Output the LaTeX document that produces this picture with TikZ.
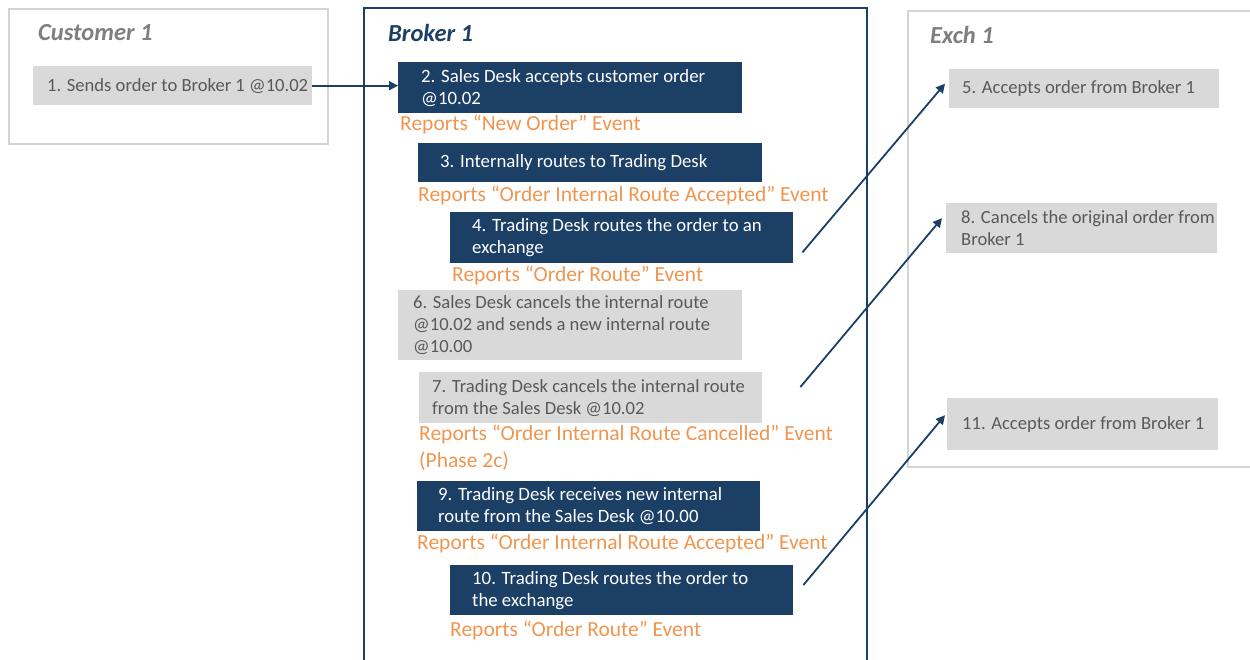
\documentclass[tikz,border=0pt]{standalone}
\usepackage{fontspec}
\setmainfont{Carlito}
\usetikzlibrary{arrows.meta,calc}
\definecolor{navy}{HTML}{1C3F66}
\definecolor{boxgray}{HTML}{D9D9D9}
\definecolor{txtgray}{HTML}{595959}
\definecolor{ttlgray}{HTML}{7F7F7F}
\definecolor{framegray}{HTML}{D4D4D4}
\definecolor{rep}{HTML}{F0954F}
\begin{document}
\begin{tikzpicture}[x=1pt,y=-1pt,
  bluebox/.style={draw=none,fill=navy,anchor=north west,inner sep=0pt},
  graybox/.style={draw=none,fill=boxgray,anchor=north west,inner sep=0pt},
  bluetxt/.style={anchor=west,inner sep=0pt,align=left,text=white,font=\fontsize{18.8}{22}\selectfont},
  graytxt/.style={anchor=west,inner sep=0pt,align=left,text=txtgray,font=\fontsize{18.6}{22}\selectfont},
  report/.style={anchor=west,inner sep=0pt,align=left,text=rep,font=\fontsize{21.5}{27}\selectfont},
  title/.style={anchor=west,inner sep=0pt,font=\fontsize{24.5}{26}\selectfont\bfseries\itshape},
  arr/.style={draw=navy,line width=1.8pt,-{Triangle[length=9pt,width=9pt]}}
]
\useasboundingbox (0,0) rectangle (1250,659);
% frames
\draw[framegray,line width=2pt] (9,9) rectangle (328,144);
\draw[navy,line width=2pt] (364,8) rectangle (867,680);
\draw[framegray,line width=2pt] (908,11) rectangle (1270,467);
% titles
\node[title,text=ttlgray] (tc) at (38,33) {Customer 1};
\node[title,text=navy] (tb) at (388,33) {Broker 1};
\node[title,text=ttlgray] (te) at (930,35) {Exch 1};
% customer
\node[graybox,minimum width=279pt,minimum height=39pt] (b1) at (33,66) {};
\node[graytxt] (t1) at ($(b1.west)+(14,0)$) {1. Sends order to Broker 1 @10.02};
% broker
\node[bluebox,minimum width=344pt,minimum height=51pt] (b2) at (398,62) {};
\node[bluetxt] (t2) at ($(b2.west)+(23,0)$) {2. Sales Desk accepts customer order\\@10.02};
\node[report] (r2) at (400,124) {Reports “New Order” Event};
\node[bluebox,minimum width=344pt,minimum height=39pt] (b3) at (418,143) {};
\node[bluetxt] (t3) at ($(b3.west)+(22,0)$) {3. Internally routes to Trading Desk};
\node[report] (r3) at (418,195) {Reports “Order Internal Route Accepted” Event};
\node[bluebox,minimum width=343pt,minimum height=51pt] (b4) at (450,212) {};
\node[bluetxt] (t4) at ($(b4.west)+(22,0)$) {4. Trading Desk routes the order to an\\exchange};
\node[report] (r4) at (452,275) {Reports “Order Route” Event};
\node[graybox,minimum width=344pt,minimum height=70pt] (b6) at (398,290) {};
\node[graytxt] (t6) at ($(b6.west)+(15,0)$) {6. Sales Desk cancels the internal route\\@10.02 and sends a new internal route\\@10.00};
\node[graybox,minimum width=343pt,minimum height=51pt] (b7) at (419,372) {};
\node[graytxt] (t7) at ($(b7.west)+(13,0)$) {7. Trading Desk cancels the internal route\\from the Sales Desk @10.02};
\node[report] (r7) at (419,447.5) {Reports “Order Internal Route Cancelled” Event\\(Phase 2c)};
\node[bluebox,minimum width=343pt,minimum height=50pt] (b9) at (417,481) {};
\node[bluetxt] (t9) at ($(b9.west)+(21,0)$) {9. Trading Desk receives new internal\\route from the Sales Desk @10.00};
\node[report] (r9) at (417,543) {Reports “Order Internal Route Accepted” Event};
\node[bluebox,minimum width=343pt,minimum height=50pt] (b10) at (450,565) {};
\node[bluetxt] (t10) at ($(b10.west)+(22,0)$) {10. Trading Desk routes the order to\\the exchange};
\node[report] (r10) at (450,630) {Reports “Order Route” Event};
% exchange
\node[graybox,minimum width=270pt,minimum height=39pt] (b5) at (949,69) {};
\node[graytxt] (t5) at ($(b5.west)+(13,0)$) {5. Accepts order from Broker 1};
\node[graybox,minimum width=271pt,minimum height=50pt] (b8) at (946,203) {};
\node[graytxt] (t8) at ($(b8.west)+(15,0)$) {8. Cancels the original order from\\Broker 1};
\node[graybox,minimum width=271pt,minimum height=52pt] (b11) at (947,398) {};
\node[graytxt] (t11) at ($(b11.west)+(15,0)$) {11. Accepts order from Broker 1};
% connector endpoints
\coordinate (s4) at ($(b4.south east)+(9,-11)$);
\coordinate (e5) at ($(b5.west)+(-4,-5)$);
\coordinate (s7) at ($(b7.north east)+(38,15)$);
\coordinate (e8) at ($(b8.west)+(-4,-10)$);
\coordinate (s10) at ($(b10.north east)+(10,20)$);
\coordinate (e11) at ($(b11.west)+(-2,-9)$);
% connectors
\draw[arr] (b1.east) -- (b2.west |- b1.east);
\draw[arr] (s4) -- (e5);
\draw[arr] (s7) -- (e8);
\draw[arr] (s10) -- (e11);
\end{tikzpicture}
\end{document}
